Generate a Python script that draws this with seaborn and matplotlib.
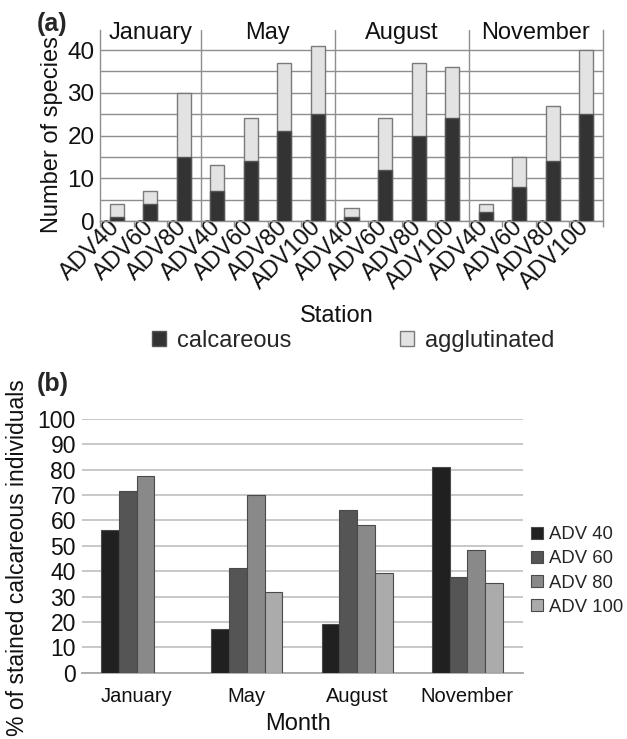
import numpy as np
import pandas as pd
import matplotlib
matplotlib.use("Agg")
import matplotlib.pyplot as plt
from matplotlib import transforms
import seaborn as sns

# ---------------- data ----------------
# panel (a): number of species per station and month
months_a = ["January"] * 3 + ["May"] * 4 + ["August"] * 4 + ["November"] * 4
stations_a = ["ADV40", "ADV60", "ADV80",
              "ADV40", "ADV60", "ADV80", "ADV100",
              "ADV40", "ADV60", "ADV80", "ADV100",
              "ADV40", "ADV60", "ADV80", "ADV100"]
calcareous = [1, 4, 15, 7, 14, 21, 25, 1, 12, 20, 24, 2, 8, 14, 25]
agglutinated = [3, 3, 15, 6, 10, 16, 16, 2, 12, 17, 12, 2, 7, 13, 15]
month_names = ["January", "May", "August", "November"]

# panel (b): % of stained calcareous individuals
stations_b = ["ADV 40", "ADV 60", "ADV 80", "ADV 100"]
adv40 = [56.2, 17.1, 19.2, 81.2]
adv60 = [71.7, 41.3, 64.3, 37.8]
adv80 = [77.4, 70.2, 58.2, 48.5]
adv100 = [np.nan, 31.7, 39.2, 35.5]

# ---------------- style ----------------
sns.set_theme(style="white")
plt.rcParams["font.family"] = ["Liberation Sans", "DejaVu Sans"]

W, H = 627, 739
fig = plt.figure(figsize=(W / 100, H / 100), dpi=100)


def box(l, t, r, b):
    return [l / W, 1 - b / H, (r - l) / W, (b - t) / H]


axa = fig.add_axes(box(100, 30, 603, 221))
axb = fig.add_axes(box(81.5, 419, 522.5, 672.7))
txt = "#111111"

# ---------------- panel (a) ----------------
slots = [f"{m} {s}" for m, s in zip(months_a, stations_a)]
df_a = pd.DataFrame({"slot": slots, "month": months_a, "station": stations_a,
                     "calcareous": calcareous, "agglutinated": agglutinated})
df_a["total"] = df_a["calcareous"] + df_a["agglutinated"]

grid_col = "#8e8e8e"
sns.barplot(data=df_a, x="slot", y="total", order=slots, color="#e3e3e3",
            edgecolor="#7a7a7a", linewidth=1.0, width=0.42, saturation=1,
            errorbar=None, ax=axa, zorder=3)
sns.barplot(data=df_a, x="slot", y="calcareous", order=slots, color="#333333",
            edgecolor="#555555", linewidth=1.0, width=0.42, saturation=1,
            errorbar=None, ax=axa, zorder=3)

axa.set_xlim(-0.5, len(slots) - 0.5)
axa.set_ylim(0, 44.7)
axa.set_yticks([0, 10, 20, 30, 40])
axa.set_yticks(np.arange(5, 45, 5), minor=True)
axa.yaxis.grid(True, which="both", color=grid_col, lw=1.0, zorder=0)
axa.xaxis.grid(False)
axa.set_axisbelow(True)
for sp in ["left", "bottom", "right"]:
    axa.spines[sp].set_color(grid_col)
    axa.spines[sp].set_linewidth(1.0)
axa.spines["top"].set_visible(False)

# month separators and month titles
bounds = np.cumsum([months_a.count(m) for m in month_names])
start = 0
for m, b in zip(month_names, bounds):
    if b < len(slots):
        axa.axvline(b - 0.5, color=grid_col, lw=1.0, zorder=1)
    axa.text((start + b - 1) / 2, 42.6, m, ha="center", va="baseline",
             fontsize=17, color=txt)
    start = b

axa.set_xticks(range(len(slots)))
axa.set_xticklabels(stations_a, rotation=45, ha="right", va="center",
                    rotation_mode="anchor", fontsize=17, color=txt)
offset = transforms.ScaledTranslation(9 / 100, -3 / 100, fig.dpi_scale_trans)
for lab in axa.get_xticklabels():
    lab.set_transform(lab.get_transform() + offset)
axa.set_xticks(np.arange(-0.5, len(slots), 1), minor=True)
axa.tick_params(axis="x", which="major", length=0, pad=2)
axa.tick_params(axis="x", which="minor", length=4, width=1, color=grid_col,
                direction="out", bottom=True)
axa.tick_params(axis="y", which="both", length=0, pad=4, labelsize=17.5,
                labelcolor=txt)
axa.set_xlabel("Station", fontsize=17, color=txt)
axa.xaxis.set_label_coords((337 - 100) / 503, (221 - 305) / 191)
axa.set_ylabel("Number of species", fontsize=17, color=txt)
axa.yaxis.set_label_coords((63 - 100) / 503, (221 - 135) / 191)

handles = [axa.containers[1].patches[0], axa.containers[0].patches[0]]
fig.legend(handles, ["calcareous", "agglutinated"], loc="center left",
           bbox_to_anchor=(152 / W, 1 - 341 / H), ncol=2, frameon=False,
           fontsize=17, handlelength=0.6, handleheight=0.6,
           handletextpad=0.45, columnspacing=4.6, borderpad=0,
           borderaxespad=0)

fig.text(37 / W, 1 - 12 / H, "(a)", fontsize=18, fontweight="bold",
         va="top", ha="left")

# ---------------- panel (b) ----------------
df_b = pd.DataFrame({"Month": month_names, "ADV 40": adv40, "ADV 60": adv60,
                     "ADV 80": adv80, "ADV 100": adv100})
df_b = df_b.melt(id_vars="Month", var_name="station", value_name="pct").dropna()

pal_b = ["#202020", "#555555", "#898989", "#ababab"]
sns.barplot(data=df_b, x="Month", y="pct", hue="station", order=month_names,
            hue_order=stations_b, palette=pal_b, width=0.645, saturation=1,
            edgecolor="#4a4a4a", linewidth=0.8, errorbar=None, ax=axb,
            zorder=3)

axb.set_ylim(0, 100)
axb.set_xlim(-0.5, 3.5)
axb.set_yticks(np.arange(0, 101, 10))
axb.yaxis.grid(True, color="#c4c4c4", lw=1.3, zorder=0)
axb.xaxis.grid(False)
axb.set_axisbelow(True)
for sp in ["left", "right", "top"]:
    axb.spines[sp].set_visible(False)
axb.spines["bottom"].set_color("#a8a8a8")
axb.spines["bottom"].set_linewidth(1.3)
axb.tick_params(axis="y", length=0, pad=4, labelsize=16.5, labelcolor=txt)
axb.tick_params(axis="x", length=0, pad=10, labelsize=14.5, labelcolor=txt)
axb.set_xlabel("Month", fontsize=17, color=txt)
axb.xaxis.set_label_coords((298 - 81.5) / 441, (672.7 - 713) / 253.7)
axb.set_ylabel("% of stained calcareous individuals", fontsize=16.5,
               color=txt)
axb.yaxis.set_label_coords((29 - 81.5) / 441, (672.7 - 558) / 253.7)

h, l = axb.get_legend_handles_labels()
axb.legend(h, l, loc="center left", bbox_to_anchor=(531 / W, 1 - 571 / H),
           bbox_transform=fig.transFigure, frameon=False, fontsize=13.3,
           handlelength=0.65, handleheight=0.65, handletextpad=0.35,
           labelspacing=0.38, borderpad=0, borderaxespad=0)

fig.text(37 / W, 1 - 372 / H, "(b)", fontsize=18, fontweight="bold",
         va="top", ha="left")

fig.savefig("out.png", dpi=100)
